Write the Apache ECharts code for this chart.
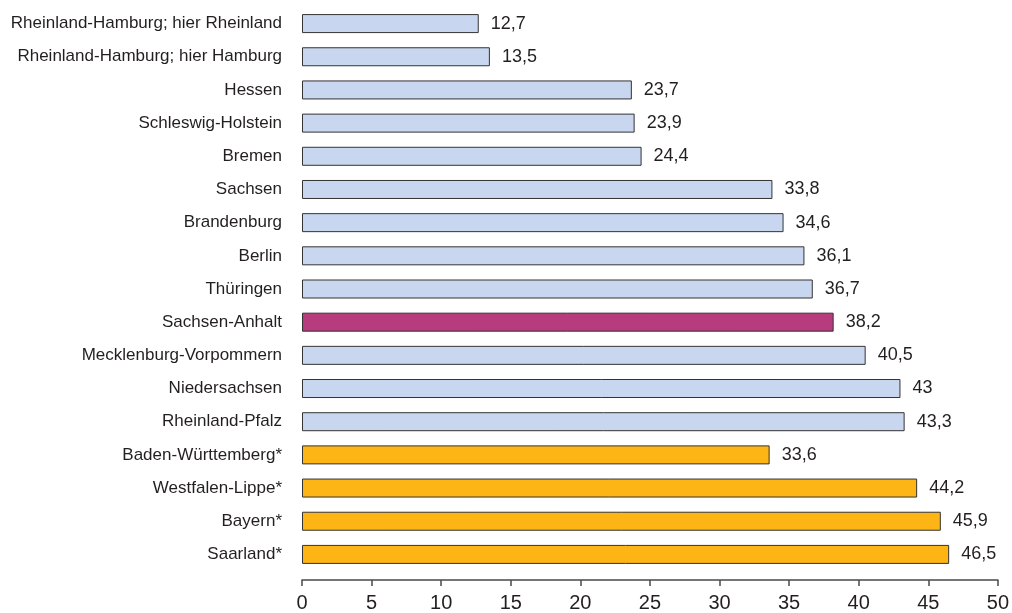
<!DOCTYPE html>
<html>
<head>
<meta charset="utf-8">
<script src="https://cdn.jsdelivr.net/npm/echarts@6/dist/echarts.min.js"></script>
<style>
  html, body { margin: 0; padding: 0; background: #ffffff; }
  #chart { width: 1012px; height: 613px; }
</style>
</head>
<body>
<div id="chart"></div>
<script>
// Regions listed top to bottom
const categories = [
  'Rheinland-Hamburg; hier Rheinland',
  'Rheinland-Hamburg; hier Hamburg',
  'Hessen',
  'Schleswig-Holstein',
  'Bremen',
  'Sachsen',
  'Brandenburg',
  'Berlin',
  'Thüringen',
  'Sachsen-Anhalt',
  'Mecklenburg-Vorpommern',
  'Niedersachsen',
  'Rheinland-Pfalz',
  'Baden-Württemberg*',
  'Westfalen-Lippe*',
  'Bayern*',
  'Saarland*'
];
const values = [12.7, 13.5, 23.7, 23.9, 24.4, 33.8, 34.6, 36.1, 36.7, 38.2, 40.5, 43, 43.3, 33.6, 44.2, 45.9, 46.5];
// Bar group per region: 'base', 'focus' or 'star'
const groups = ['base','base','base','base','base','base','base','base','base','focus','base','base','base','star','star','star','star'];
const xTicks = [0, 5, 10, 15, 20, 25, 30, 35, 40, 45, 50];

const groupColors = { base: '#c8d6ef', focus: '#b73c7e', star: '#fcb515' };
const fontFamily = '"Liberation Sans", Arial, Helvetica, sans-serif';

const chart = echarts.init(document.getElementById('chart'), null, { renderer: 'canvas' });
chart.setOption({
  animation: false,
  backgroundColor: '#ffffff',
  grid: { left: 302, right: 12, top: 7, height: 565, containLabel: false },
  xAxis: {
    type: 'value',
    min: xTicks[0],
    max: xTicks[xTicks.length - 1],
    interval: 5,
    offset: 9,
    axisLine: { show: true, lineStyle: { color: '#4a4a4a', width: 1.5 } },
    axisTick: { show: true, length: 6, lineStyle: { color: '#4a4a4a', width: 1.5 } },
    splitLine: { show: false },
    axisLabel: { color: '#231f20', fontSize: 20, fontFamily: fontFamily, margin: 13 }
  },
  yAxis: {
    type: 'category',
    data: categories,
    inverse: true,
    axisLine: { show: false },
    axisTick: { show: false },
    axisLabel: { color: '#231f20', fontSize: 17, fontFamily: fontFamily, margin: 20 }
  },
  series: [{
    type: 'bar',
    barWidth: 19,
    data: values.map((v, i) => ({
      value: v,
      itemStyle: { color: groupColors[groups[i]] }
    })),
    itemStyle: { borderColor: '#333333', borderWidth: 1 },
    label: {
      show: true,
      position: 'right',
      distance: 12,
      color: '#231f20',
      fontSize: 18,
      fontFamily: fontFamily,
      formatter: p => String(p.value).replace('.', ',')
    }
  }]
});
</script>
</body>
</html>
